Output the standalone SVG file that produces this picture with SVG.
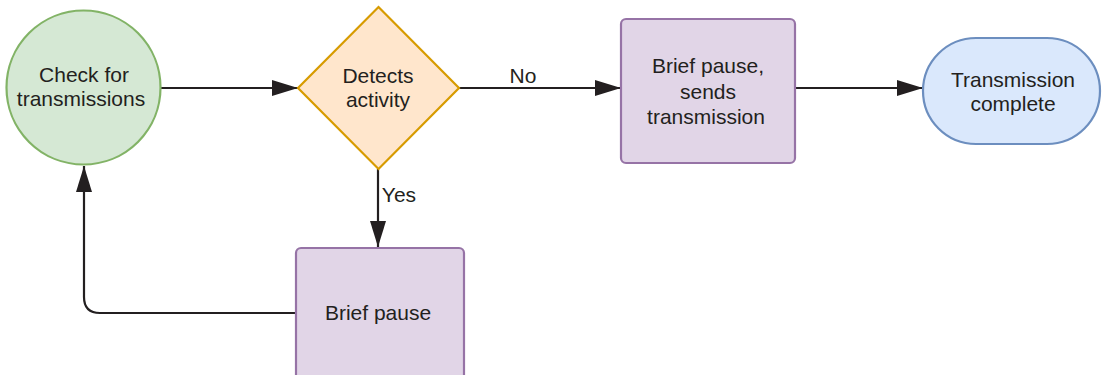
<svg xmlns="http://www.w3.org/2000/svg" width="1102" height="375" viewBox="0 0 1102 375">
<defs>
<marker id="arr" markerWidth="26" markerHeight="16" refX="26" refY="8" orient="auto" markerUnits="userSpaceOnUse">
<path d="M0,0 L26,8 L0,16 Z" fill="#231f20"/>
</marker>
<style>
text{font-family:"Liberation Sans",Arial,sans-serif;font-size:21px;fill:#231f20;text-anchor:middle}
.c{fill:none;stroke:#231f20;stroke-width:2.2}
.box{fill:#e1d5e7;stroke:#9673a6;stroke-width:2.2}
</style>
</defs>
<rect width="1102" height="375" fill="#fff"/>
<g id="connectors">
<line class="c" x1="161" y1="88" x2="298" y2="88" marker-end="url(#arr)"/>
<line class="c" x1="459" y1="88" x2="621" y2="88" marker-end="url(#arr)"/>
<line class="c" x1="795" y1="88" x2="923" y2="88" marker-end="url(#arr)"/>
<line class="c" x1="378" y1="169" x2="378" y2="247" marker-end="url(#arr)"/>
<path class="c" d="M296,313 L100,313 Q84,313 84,297 L84,166" marker-end="url(#arr)"/>
<text x="523" y="83">No</text>
<text x="399" y="202">Yes</text>
</g>
<g id="check">
<circle cx="83.5" cy="87.5" r="77" fill="#d5e8d4" stroke="#82b366" stroke-width="2.2"/>
<text x="84" y="82">Check for</text>
<text x="81" y="106">transmissions</text>
</g>
<g id="detects">
<polygon points="378.5,7 459,88 378.5,169 298,88" fill="#ffe6cc" stroke="#d79b00" stroke-width="2.2"/>
<text x="378" y="83">Detects</text>
<text x="378" y="107">activity</text>
</g>
<g id="sends">
<rect class="box" x="621" y="19" width="174" height="144" rx="5"/>
<text x="708" y="73">Brief pause,</text>
<text x="708" y="99">sends</text>
<text x="706" y="124">transmission</text>
</g>
<g id="complete">
<rect x="923" y="38" width="177" height="106" rx="53" fill="#dae8fc" stroke="#6c8ebf" stroke-width="2.2"/>
<text x="1013" y="87">Transmission</text>
<text x="1013" y="111">complete</text>
</g>
<g id="pause">
<rect class="box" x="296" y="248" width="168" height="140" rx="5"/>
<text x="378" y="320">Brief pause</text>
</g>
</svg>
